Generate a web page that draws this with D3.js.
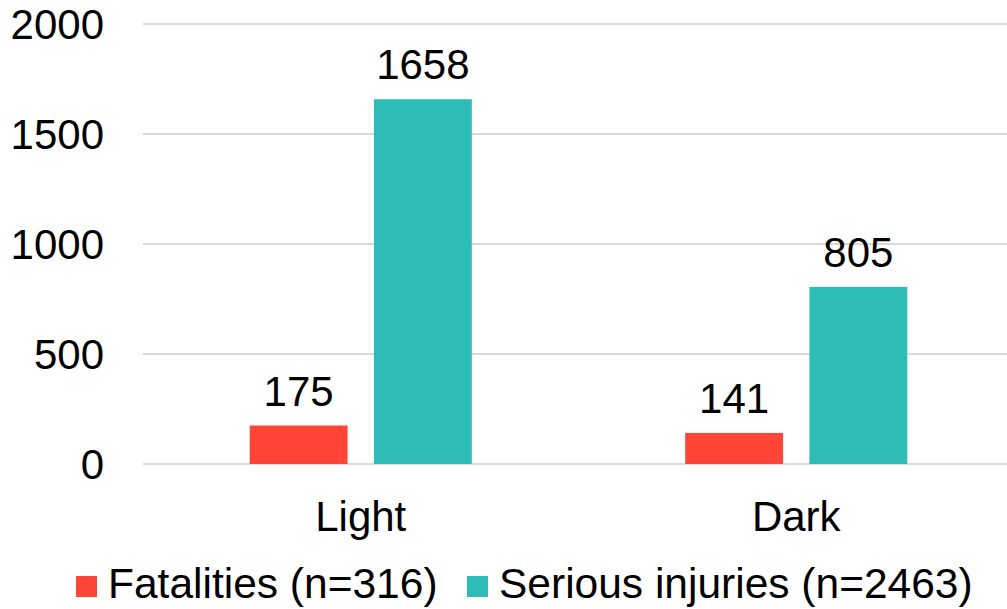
<!DOCTYPE html>
<html>
<head>
<meta charset="utf-8">
<script src="https://cdn.jsdelivr.net/npm/d3@7"></script>
<style>
  html, body { margin: 0; padding: 0; background: #fff; overflow: hidden; }
  text { font-family: "Liberation Sans", Arial, sans-serif; fill: #000; }
</style>
</head>
<body>
<svg id="chart" width="1007" height="609"></svg>
<script>
const categories = ["Light", "Dark"];
const seriesNames = ["Fatalities (n=316)", "Serious injuries (n=2463)"];
const fatalities = [175, 141];
const seriousInjuries = [1658, 805];
const yTicks = [0, 500, 1000, 1500, 2000];
const colors = ["#ff4538", "#2ebdb6"];

const values = [fatalities, seriousInjuries];

const svg = d3.select("#chart");
const margin = { left: 143, top: 24 };
const plotW = 871, plotH = 440;

const g = svg.append("g").attr("transform", `translate(${margin.left},${margin.top})`);

const y = d3.scaleLinear().domain([0, 2000]).range([plotH, 0]);
const x0 = d3.scaleBand().domain(categories).range([0, plotW]).paddingInner(0.49).paddingOuter(0.245);
const x1 = d3.scaleBand().domain(seriesNames).range([0, x0.bandwidth()]).paddingInner(0.212);

// gridlines
g.selectAll(".grid").data(yTicks).enter().append("line")
  .attr("x1", 0).attr("x2", plotW)
  .attr("y1", d => y(d)).attr("y2", d => y(d))
  .attr("stroke", "#d9d9d9").attr("stroke-width", 2);

// y tick labels
g.selectAll(".ytick").data(yTicks).enter().append("text")
  .attr("x", -39).attr("y", d => y(d))
  .attr("dy", "0.36em")
  .attr("text-anchor", "end")
  .attr("font-size", 42)
  .text(d => d);

// bars
categories.forEach((c, ci) => {
  seriesNames.forEach((s, si) => {
    const v = values[si][ci];
    const bx = x0(c) + x1(s);
    g.append("rect")
      .attr("x", bx).attr("y", y(v))
      .attr("width", x1.bandwidth()).attr("height", y(0) - y(v))
      .attr("fill", colors[si]);
    g.append("text")
      .attr("x", bx + x1.bandwidth() / 2)
      .attr("y", y(v) - 20)
      .attr("text-anchor", "middle")
      .attr("font-size", 42)
      .text(v);
  });
});

// x labels
g.selectAll(".xlab").data(categories).enter().append("text")
  .attr("x", d => x0(d) + x0.bandwidth() / 2)
  .attr("y", 531 - margin.top)
  .attr("text-anchor", "middle")
  .attr("font-size", 42)
  .text(d => d);

// legend
const legendX = [76, 467];
seriesNames.forEach((s, i) => {
  svg.append("rect")
    .attr("x", legendX[i]).attr("y", 576)
    .attr("width", 21).attr("height", 21)
    .attr("fill", colors[i]);
  svg.append("text")
    .attr("x", legendX[i] + 32).attr("y", 598)
    .attr("font-size", 42.5)
    .text(s);
});
</script>
</body>
</html>
